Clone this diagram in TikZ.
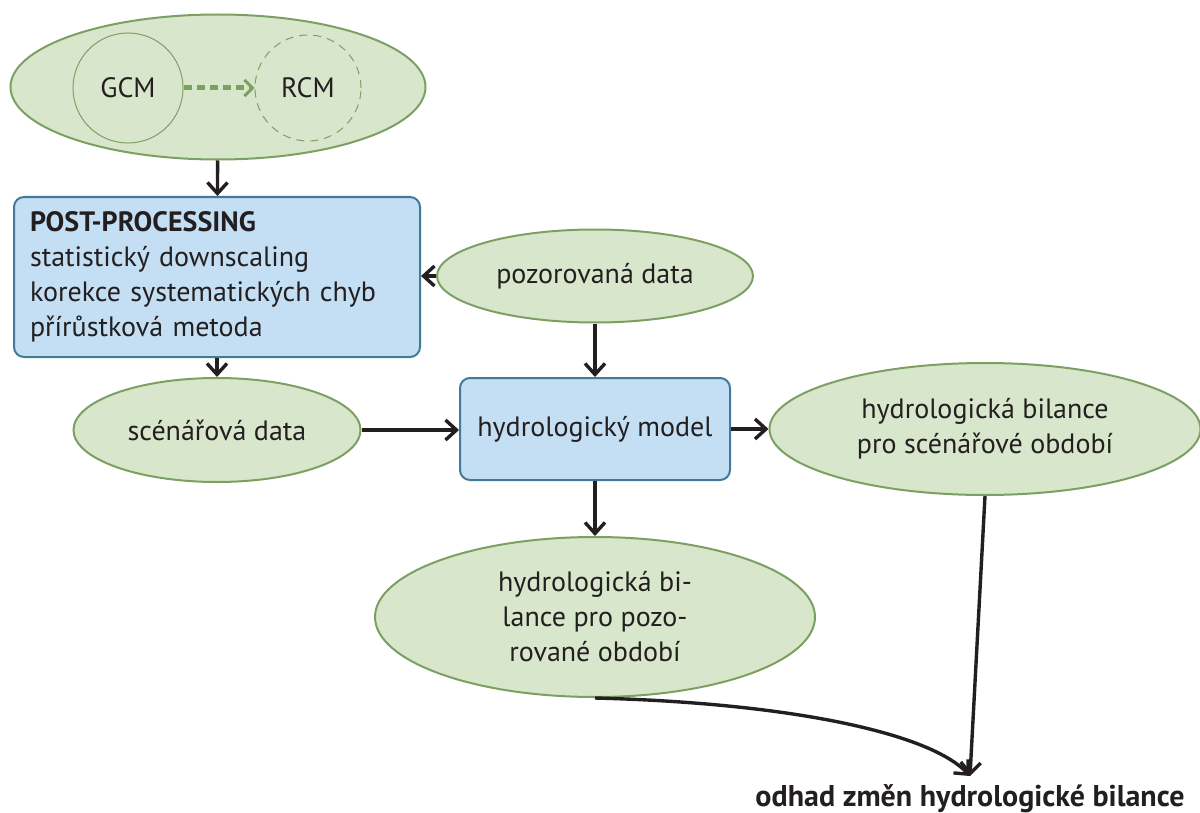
\documentclass[tikz,border=0pt]{standalone}
\usepackage{fontspec}
\setmainfont{PT Sans}
\usetikzlibrary{arrows.meta,shapes.geometric}

\definecolor{zelena}{RGB}{216,230,204}
\definecolor{zelenaokraj}{RGB}{124,160,98}
\definecolor{modra}{RGB}{196,223,243}
\definecolor{modraokraj}{RGB}{66,122,152}
\definecolor{textcerna}{RGB}{35,31,32}

\tikzset{
    elipsa/.style={ellipse, draw=zelenaokraj, fill=zelena, line width=1pt, inner sep=0pt, align=center},
    kruh/.style={circle, draw=zelenaokraj, line width=0.5pt, inner sep=0pt},
    blok/.style={rectangle, rounded corners=5pt, draw=modraokraj, fill=modra, line width=1pt},
    sipka/.style={line width=1.7pt, textcerna, -{Straight Barb[length=5.5pt,width=10pt,line width=1.7pt]}},
}

\begin{document}
\begin{tikzpicture}[x=0.5pt, y=-0.5pt, font=\fontsize{14}{17.5}\selectfont, text=textcerna]

    \useasboundingbox (0,0) rectangle (1200,813);

    \node [elipsa, minimum width=207.5pt, minimum height=72.5pt] (modely) at (218,87) {};
    \node [kruh, minimum size=55pt] (gcm) at (128,88) {GCM};
    \node [kruh, dashed, dash pattern=on 4pt off 3pt, minimum size=53pt] (rcm) at (308,88) {RCM};
    \draw [line width=2.5pt, zelenaokraj, dash pattern=on 4pt off 2.5pt,
           -{Straight Barb[length=4pt,width=8pt,line width=1.5pt]}] (gcm) -- (rcm);

    \node [blok, minimum width=203pt, minimum height=80pt, text width=187pt, inner xsep=8pt, align=left] (post) at (217,277)
        {\textbf{POST-PROCESSING}\\statistický downscaling\\korekce systematických chyb\\přírůstková metoda};

    \node [elipsa, minimum width=158pt, minimum height=46.5pt] (pozor) at (595,276) {pozorovaná data};
    \node [elipsa, minimum width=143.5pt, minimum height=52pt] (scen) at (217,430) {scénářová data};
    \node [blok, minimum width=135pt, minimum height=51pt] (model) at (595,429) {hydrologický model};
    \node [elipsa, minimum width=215.5pt, minimum height=66pt] (bilscen) at (985,429)
        {hydrologická bilance\\pro scénářové období};
    \node [elipsa, minimum width=220pt, minimum height=80pt] (bilpozor) at (595,617)
        {hydrologická bi-\\lance pro pozo-\\rované období};

    \coordinate (cil) at (970,776);
    \node [font=\fontsize{15}{18}\selectfont\bfseries, anchor=base, inner sep=0pt] (odhad) at (970,806) {odhad změn hydrologické bilance};

    \draw [sipka] (modely) -- (post);
    \draw [sipka] (pozor) -- (post.east |- pozor);
    \draw [sipka] (post) -- (scen);
    \draw [sipka] (pozor) -- (model);
    \draw [sipka] (scen) -- (model.west |- scen);
    \draw [sipka] (model.east |- bilscen) -- (bilscen);
    \draw [sipka] (model) -- (bilpozor);
    \draw [sipka] (bilscen.south) -- (cil);
    \draw [sipka] (bilpozor.south) .. controls (790,703) and (930,733) .. (cil);

\end{tikzpicture}
\end{document}
